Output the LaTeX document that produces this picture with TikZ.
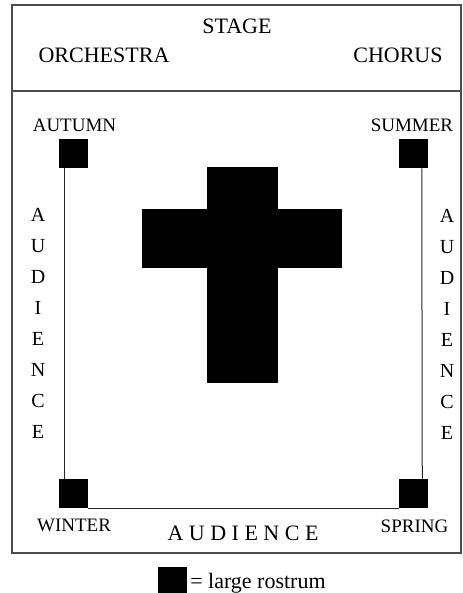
\documentclass[tikz,border=0pt]{standalone}
\usepackage{fontspec}
\setmainfont{Liberation Serif}
\begin{document}
\begin{tikzpicture}[x=0.75pt, y=-0.75pt,
  rostrum/.style={fill=black, draw=none, minimum size=21.75pt, inner sep=0pt},
  biglabel/.style={font=\fontsize{16.5}{19}\selectfont, inner sep=0pt},
  season/.style={font=\fontsize{14.25}{17}\selectfont, inner sep=0pt},
  letter/.style={font=\fontsize{15}{18}\selectfont, inner sep=0pt},
  frame/.style={draw=black!70, line width=0.9pt},
  rail/.style={draw=black!85, line width=0.75pt}]
  \useasboundingbox (0,0) rectangle (462,593);
  % Outer frame and stage divider
  \draw[frame] (12,5) rectangle (461,553);
  \draw[frame] (12,91) -- (461,91);
  % Stage area
  \node[biglabel] (stage) at (237,26) {STAGE};
  \node[biglabel] (orchestra) at (104,55) {ORCHESTRA};
  \node[biglabel] (chorus) at (398,55) {CHORUS};
  % Rostra at the corners
  \node[rostrum] (autumn) at (73.5,153.5) {};
  \node[rostrum] (summer) at (413,153.5) {};
  \node[rostrum] (winter) at (73.5,493.5) {};
  \node[rostrum] (spring) at (413.5,493.5) {};
  \node[season] (autumnlbl) at (74.5,125) {AUTUMN};
  \node[season] (summerlbl) at (412,125) {SUMMER};
  \node[season] (winterlbl) at (74,525.5) {WINTER};
  \node[season] (springlbl) at (414.5,526) {SPRING};
  % Rails between the rostra
  \draw[rail] ([xshift=4.5pt]autumn.south west) -- ([xshift=4.5pt]winter.north west);
  \draw[rail] ([xshift=-4.5pt]summer.south east) -- ([xshift=-4.5pt]spring.north east);
  \draw[rail] (winter.south east) -- (spring.south west);
  % Cross in the middle
  \fill (207,167) rectangle (278,383);
  \fill (142,209) rectangle (342,268);
  % Audience on three sides
  \foreach \l [count=\i] in {A,U,D,I,E,N,C,E} {
    \node[letter] (audl\i) at (38,{215+31*(\i-1)}) {\l};
    \node[letter] (audr\i) at (447,{216+31*(\i-1)}) {\l};
  }
  \node[biglabel] (audbottom) at (243,533.5) {A U D I E N C E};
  % Legend
  \node[rostrum, minimum height=19.5pt] (key) at (172,580) {};
  \node[biglabel, anchor=base west] (keylbl) at (190,588) {= large rostrum};
\end{tikzpicture}
\end{document}
